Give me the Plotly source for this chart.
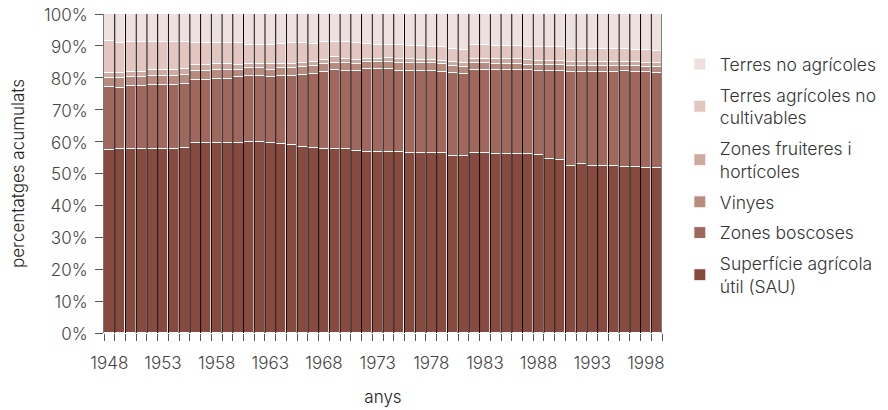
import plotly.graph_objects as go

years = list(range(1948, 2000))

sau = [57.5, 57.8, 57.8, 57.8, 57.8, 57.8, 57.8, 58.0, 59.6, 59.6,
       59.6, 59.6, 59.6, 59.9, 59.9, 59.6, 59.2, 58.8, 58.4, 58.1,
       57.7, 57.7, 57.7, 57.1, 56.7, 56.7, 56.7, 56.7, 56.4, 56.4,
       56.4, 56.4, 55.6, 55.6, 56.4, 56.4, 56.1, 56.1, 56.1, 56.1,
       55.7, 54.5, 54.2, 52.5, 52.9, 52.4, 52.4, 52.4, 52.0, 52.0,
       51.7, 51.7]
boscoses = [19.5, 19.0, 19.5, 19.5, 19.8, 19.8, 19.8, 20.0, 19.8, 19.8,
            20.1, 20.1, 20.7, 20.6, 20.6, 20.7, 21.3, 21.8, 22.4, 23.1,
            24.0, 24.7, 24.5, 25.1, 26.0, 26.0, 26.0, 25.5, 25.8, 25.8,
            25.8, 25.4, 25.9, 25.6, 26.1, 26.1, 26.4, 26.4, 26.2, 26.2,
            26.5, 27.7, 28.0, 29.3, 28.9, 29.4, 29.4, 29.4, 30.0, 29.8,
            30.1, 29.8]
vinyes = [2.8, 3.0, 3.0, 3.0, 2.9, 2.9, 2.9, 2.8, 2.8, 2.8,
          2.8, 2.8, 2.2, 2.5, 2.5, 2.2, 2.5, 2.5, 2.5, 2.4,
          2.6, 2.2, 2.4, 2.1, 2.2, 2.2, 2.2, 2.4, 2.4, 2.4,
          2.4, 2.6, 2.1, 2.1, 2.1, 2.1, 1.8, 1.8, 2.0, 1.8,
          1.7, 1.7, 1.7, 1.8, 1.8, 1.8, 1.8, 1.8, 1.6, 1.8,
          1.5, 1.8]
fruiteres = [1.7, 1.7, 1.6, 1.6, 1.8, 1.8, 1.8, 1.9, 1.7, 1.7,
             1.8, 1.8, 1.5, 1.3, 1.3, 1.8, 1.3, 1.2, 1.3, 1.4,
             1.4, 1.8, 1.4, 1.4, 1.1, 1.1, 1.3, 1.4, 1.4, 1.1,
             1.1, 1.0, 1.3, 1.3, 1.4, 1.4, 1.6, 1.6, 1.6, 1.4,
             1.5, 1.5, 1.5, 1.3, 1.3, 1.3, 1.3, 1.3, 1.3, 1.3,
             1.3, 1.3]
no_cultivables = [9.9, 9.3, 9.3, 9.3, 8.9, 8.9, 8.9, 8.5, 7.0, 7.0,
                  6.5, 6.5, 6.8, 6.1, 6.1, 6.1, 6.3, 6.6, 6.3, 5.6,
                  5.4, 4.7, 5.1, 5.2, 4.7, 4.4, 4.2, 4.4, 3.9, 4.2,
                  3.9, 4.2, 4.2, 4.2, 4.2, 4.2, 4.2, 4.2, 4.2, 4.1,
                  4.2, 4.2, 4.2, 4.2, 4.2, 4.1, 4.1, 4.1, 4.1, 3.9,
                  4.0, 3.7]
no_agricoles = [8.6, 9.2, 8.8, 8.8, 8.8, 8.8, 8.8, 8.8, 9.1, 9.1,
                9.2, 9.2, 9.2, 9.6, 9.6, 9.6, 9.4, 9.1, 9.1, 9.4,
                8.9, 8.9, 8.9, 9.1, 9.3, 9.6, 9.6, 9.6, 10.1, 10.1,
                10.4, 10.4, 10.9, 11.2, 9.8, 9.8, 9.9, 9.9, 9.9, 10.4,
                10.4, 10.4, 10.4, 10.9, 10.9, 11.0, 11.0, 11.0, 11.0, 11.2,
                11.4, 11.7]

series = [
    ("Superfície agrícola<br>útil (SAU)", sau, "#874a3f"),
    ("Zones boscoses", boscoses, "#a0685c"),
    ("Vinyes", vinyes, "#b98b7e"),
    ("Zones fruiteres i<br>hortícoles", fruiteres, "#cfaaa0"),
    ("Terres agrícoles no<br>cultivables", no_cultivables, "#e2c6bf"),
    ("Terres no agrícoles", no_agricoles, "#eee0de"),
]

label_years = [y for y in years if (y - years[0]) % 5 == 0]

FONT = "Inter, Roboto, sans-serif"

fig = go.Figure()
for i, (name, vals, color) in enumerate(series):
    fig.add_trace(go.Bar(
        x=years, y=vals, name=name, width=1,
        marker=dict(color=color, line=dict(color="#ffffff", width=1)),
        legendgroup=str(i), legendrank=100 * (len(series) - i),
    ))

# vertical separators between the bars
sx, sy = [], []
for y in years:
    b = y + 0.5
    sx += [b, b, None]
    sy += [0, 100, None]
fig.add_trace(go.Scatter(x=sx, y=sy, mode="lines", line=dict(color="#000000", width=1),
                         showlegend=False, hoverinfo="skip"))

# the page body has an 8px default margin, so margins are offset by 8px
fig.update_layout(
    width=888, height=410,
    barmode="stack", bargap=0, barnorm="percent",
    plot_bgcolor="#ffffff", paper_bgcolor="#ffffff",
    margin=dict(l=96, r=234, t=6, b=85, autoexpand=False),
    font=dict(family=FONT, size=17, color="#333333", weight=300),
    legend=dict(x=1.032, y=0.899, xanchor="left", yanchor="top",
                traceorder="grouped", font=dict(size=17.5, color="#333333", weight=300),
                tracegroupgap=5, itemwidth=30),
    showlegend=True,
)
fig.update_xaxes(
    range=[years[0] - 0.5, years[-1] + 0.5], automargin=False,
    tickmode="array", tickvals=label_years, ticktext=[str(y) for y in label_years],
    ticks="", ticklabelstandoff=18,
    minor=dict(ticks="outside", tick0=years[0] - 0.5, dtick=1, ticklen=7,
               tickcolor="#555555", showgrid=False),
    showgrid=False, zeroline=False, showline=False,
    tickfont=dict(size=17, color="#444444"),
    title=dict(text="anys", font=dict(size=17, color="#222222"), standoff=19),
)
fig.update_yaxes(
    range=[0, 100], tickvals=list(range(0, 101, 10)), automargin=False,
    ticktext=[f"{v}%" for v in range(0, 101, 10)], ticklabeloverflow="allow",
    ticks="outside", ticklen=8, tickcolor="#555555", ticklabelstandoff=4, ticklabelshift=1,
    showgrid=False, zeroline=False, showline=True, linecolor="#777777", linewidth=1,
    tickfont=dict(size=17, color="#444444"),
    title=dict(text="percentatges acumulats", font=dict(size=17, color="#222222"), standoff=20),
)

fig.write_html("out.html")
